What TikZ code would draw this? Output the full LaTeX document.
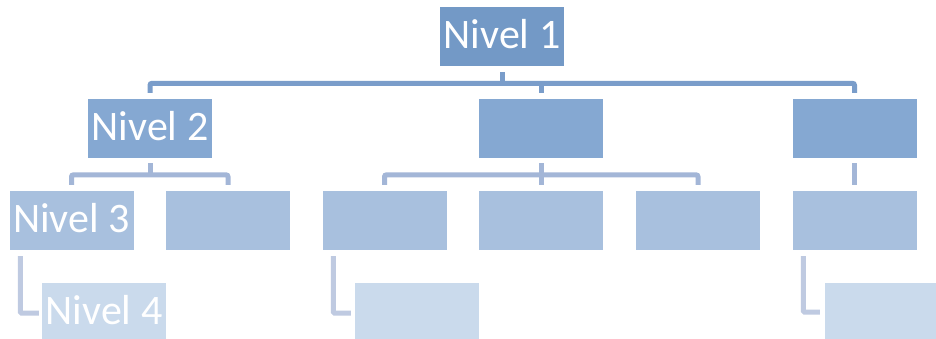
\documentclass[tikz,border=0pt]{standalone}
\usepackage{fontspec}
\setmainfont{Carlito}
\usetikzlibrary{calc}
\definecolor{cA}{HTML}{7399C6}
\definecolor{cB}{HTML}{85A8D2}
\definecolor{cC}{HTML}{A8C0DE}
\definecolor{cD}{HTML}{CADAEC}
\definecolor{lA}{HTML}{7A9DCA}
\definecolor{lB}{HTML}{A3B6D7}
\definecolor{lC}{HTML}{BFCAE1}
\tikzset{
  box/.style={rectangle, inner sep=0pt, minimum width=124pt, minimum height=59pt,
    text=white, font=\fontsize{42}{42}\selectfont, text height=24pt, text depth=0pt},
  boxA/.style={box, fill=cA},
  boxB/.style={box, fill=cB},
  boxC/.style={box, fill=cC},
  boxD/.style={box, fill=cD, minimum height=56pt, text height=27pt},
  lineA/.style={draw=lA, line width=5pt, rounded corners=2pt},
  lineB/.style={draw=lB, line width=5pt, rounded corners=2pt},
  lineC/.style={draw=lC, line width=5pt, rounded corners=1pt},
}
\begin{document}
\begin{tikzpicture}[x=1pt,y=-1pt]
\useasboundingbox (0,0) rectangle (936,339);
% level 1
\node[boxA] (n1) at (502,36.5) {Nivel 1};
% level 2
\node[boxB] (a) at (150,128.5) {Nivel 2};
\node[boxB] (b) at (541,128.5) {};
\node[boxB] (c) at (854.5,128.5) {};
% level 3
\node[boxC] (a1) at (71.5,220.5) {Nivel 3};
\node[boxC] (a2) at (228,220.5) {};
\node[boxC] (b1) at (384.5,220.5) {};
\node[boxC] (b2) at (541,220.5) {};
\node[boxC] (b3) at (698,220.5) {};
\node[boxC] (c1) at (854.5,220.5) {};
% level 4
\node[boxD] (d1) at (104,311) {Nivel 4};
\node[boxD] (d2) at (417,311) {};
\node[boxD, minimum width=111pt] (d3) at (880.5,311) {};
% level 1 connectors
\draw[lineA] ($(n1.south)+(0,6)$) -- ($(n1.south)+(0,17.5)$);
\draw[lineA] ($(a.north)+(0,-6)$) |- ($(c.north)+(0,-15.5)$) -- ($(c.north)+(0,-6)$);
\draw[lineA] ($(b.north)+(0,-15.5)$) -- ($(b.north)+(0,-6)$);
% level 2 connectors
\draw[lineB] ($(a.south)+(0,5)$) -- ($(a.south)+(0,17)$);
\draw[lineB] ($(a1.north)+(0,-6)$) |- ($(a2.north)+(0,-16)$) -- ($(a2.north)+(0,-6)$);
\draw[lineB] ($(b.south)+(0,5)$) -- ($(b.south)+(0,17)$);
\draw[lineB] ($(b1.north)+(0,-6)$) |- ($(b3.north)+(0,-16)$) -- ($(b3.north)+(0,-6)$);
\draw[lineB] ($(b2.north)+(0,-16)$) -- ($(b2.north)+(0,-6)$);
\draw[lineB] ($(c.south)+(0,5)$) -- ($(c1.north)+(0,-6)$);
% level 3 connectors
\draw[lineC] ($(a1.south west)+(11,6)$) |- ($(d1.west)+(-3,2)$);
\draw[lineC] ($(b1.south west)+(11,6)$) |- ($(d2.west)+(-4,2)$);
\draw[lineC] ($(c1.south west)+(11,6)$) |- ($(d3.west)+(-5,1)$);
\end{tikzpicture}
\end{document}
